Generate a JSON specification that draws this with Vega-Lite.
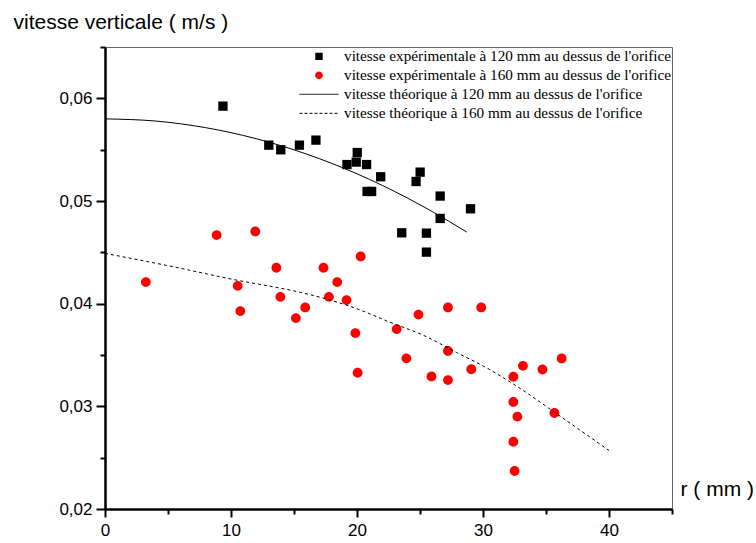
{
  "$schema": "https://vega.github.io/schema/vega-lite/v6.json",
  "width": 567,
  "height": 462,
  "autosize": {"type": "none"},
  "padding": {"left": 105, "top": 47, "right": 84, "bottom": 34},
  "background": "white",
  "config": {
    "view": {"stroke": "#666666", "strokeWidth": 1},
    "axis": {
      "grid": false,
      "domainColor": "black",
      "domainWidth": 2.5,
      "tickColor": "black",
      "tickWidth": 2,
      "labelFont": "Liberation Sans",
      "labelFontSize": 17,
      "labelColor": "black",
      "labelFlush": false,
      "labelOverlap": false,
      "titleFont": "Liberation Sans",
      "titleFontSize": 21,
      "titleFontWeight": "normal",
      "titleColor": "black"
    },
    "legend": {
      "orient": "top-right",
      "offset": 0,
      "padding": 0,
      "labelFont": "Liberation Serif",
      "labelFontSize": 15.25,
      "labelColor": "black",
      "labelLimit": 500,
      "labelOffset": 5,
      "symbolOffset": 0,
      "symbolSize": 1521,
      "symbolStrokeWidth": 1,
      "clipHeight": 18.67,
      "rowPadding": 0
    }
  },
  "data": {
    "values": [
      {"kind": "exp", "serie": "vitesse expérimentale à 120 mm au dessus de l'orifice", "r": 9.36, "v": 0.05924},
      {"kind": "exp", "serie": "vitesse expérimentale à 120 mm au dessus de l'orifice", "r": 13.0, "v": 0.05544},
      {"kind": "exp", "serie": "vitesse expérimentale à 120 mm au dessus de l'orifice", "r": 13.95, "v": 0.05499},
      {"kind": "exp", "serie": "vitesse expérimentale à 120 mm au dessus de l'orifice", "r": 15.43, "v": 0.05544},
      {"kind": "exp", "serie": "vitesse expérimentale à 120 mm au dessus de l'orifice", "r": 16.74, "v": 0.05593},
      {"kind": "exp", "serie": "vitesse expérimentale à 120 mm au dessus de l'orifice", "r": 19.2, "v": 0.05355},
      {"kind": "exp", "serie": "vitesse expérimentale à 120 mm au dessus de l'orifice", "r": 19.94, "v": 0.05379},
      {"kind": "exp", "serie": "vitesse expérimentale à 120 mm au dessus de l'orifice", "r": 20.02, "v": 0.05472},
      {"kind": "exp", "serie": "vitesse expérimentale à 120 mm au dessus de l'orifice", "r": 20.76, "v": 0.05355},
      {"kind": "exp", "serie": "vitesse expérimentale à 120 mm au dessus de l'orifice", "r": 20.8, "v": 0.05093},
      {"kind": "exp", "serie": "vitesse expérimentale à 120 mm au dessus de l'orifice", "r": 21.16, "v": 0.05093},
      {"kind": "exp", "serie": "vitesse expérimentale à 120 mm au dessus de l'orifice", "r": 21.88, "v": 0.05236},
      {"kind": "exp", "serie": "vitesse expérimentale à 120 mm au dessus de l'orifice", "r": 23.55, "v": 0.0469},
      {"kind": "exp", "serie": "vitesse expérimentale à 120 mm au dessus de l'orifice", "r": 24.69, "v": 0.0519},
      {"kind": "exp", "serie": "vitesse expérimentale à 120 mm au dessus de l'orifice", "r": 25.01, "v": 0.05281},
      {"kind": "exp", "serie": "vitesse expérimentale à 120 mm au dessus de l'orifice", "r": 25.51, "v": 0.04687},
      {"kind": "exp", "serie": "vitesse expérimentale à 120 mm au dessus de l'orifice", "r": 25.51, "v": 0.04502},
      {"kind": "exp", "serie": "vitesse expérimentale à 120 mm au dessus de l'orifice", "r": 26.6, "v": 0.05048},
      {"kind": "exp", "serie": "vitesse expérimentale à 120 mm au dessus de l'orifice", "r": 26.6, "v": 0.0483},
      {"kind": "exp", "serie": "vitesse expérimentale à 120 mm au dessus de l'orifice", "r": 29.01, "v": 0.04924},
      {"kind": "exp", "serie": "vitesse expérimentale à 160 mm au dessus de l'orifice", "r": 3.24, "v": 0.0421},
      {"kind": "exp", "serie": "vitesse expérimentale à 160 mm au dessus de l'orifice", "r": 8.86, "v": 0.04668},
      {"kind": "exp", "serie": "vitesse expérimentale à 160 mm au dessus de l'orifice", "r": 11.93, "v": 0.04703},
      {"kind": "exp", "serie": "vitesse expérimentale à 160 mm au dessus de l'orifice", "r": 10.53, "v": 0.04174},
      {"kind": "exp", "serie": "vitesse expérimentale à 160 mm au dessus de l'orifice", "r": 10.74, "v": 0.03928},
      {"kind": "exp", "serie": "vitesse expérimentale à 160 mm au dessus de l'orifice", "r": 13.6, "v": 0.0435},
      {"kind": "exp", "serie": "vitesse expérimentale à 160 mm au dessus de l'orifice", "r": 13.92, "v": 0.04067},
      {"kind": "exp", "serie": "vitesse expérimentale à 160 mm au dessus de l'orifice", "r": 15.15, "v": 0.0386},
      {"kind": "exp", "serie": "vitesse expérimentale à 160 mm au dessus de l'orifice", "r": 15.89, "v": 0.03963},
      {"kind": "exp", "serie": "vitesse expérimentale à 160 mm au dessus de l'orifice", "r": 17.34, "v": 0.0435},
      {"kind": "exp", "serie": "vitesse expérimentale à 160 mm au dessus de l'orifice", "r": 17.77, "v": 0.04067},
      {"kind": "exp", "serie": "vitesse expérimentale à 160 mm au dessus de l'orifice", "r": 18.43, "v": 0.0421},
      {"kind": "exp", "serie": "vitesse expérimentale à 160 mm au dessus de l'orifice", "r": 19.17, "v": 0.04035},
      {"kind": "exp", "serie": "vitesse expérimentale à 160 mm au dessus de l'orifice", "r": 19.87, "v": 0.03714},
      {"kind": "exp", "serie": "vitesse expérimentale à 160 mm au dessus de l'orifice", "r": 20.29, "v": 0.0446},
      {"kind": "exp", "serie": "vitesse expérimentale à 160 mm au dessus de l'orifice", "r": 20.05, "v": 0.03327},
      {"kind": "exp", "serie": "vitesse expérimentale à 160 mm au dessus de l'orifice", "r": 23.15, "v": 0.03753},
      {"kind": "exp", "serie": "vitesse expérimentale à 160 mm au dessus de l'orifice", "r": 23.92, "v": 0.03468},
      {"kind": "exp", "serie": "vitesse expérimentale à 160 mm au dessus de l'orifice", "r": 24.88, "v": 0.03894},
      {"kind": "exp", "serie": "vitesse expérimentale à 160 mm au dessus de l'orifice", "r": 27.22, "v": 0.03963},
      {"kind": "exp", "serie": "vitesse expérimentale à 160 mm au dessus de l'orifice", "r": 29.86, "v": 0.03963},
      {"kind": "exp", "serie": "vitesse expérimentale à 160 mm au dessus de l'orifice", "r": 25.91, "v": 0.03291},
      {"kind": "exp", "serie": "vitesse expérimentale à 160 mm au dessus de l'orifice", "r": 27.22, "v": 0.0354},
      {"kind": "exp", "serie": "vitesse expérimentale à 160 mm au dessus de l'orifice", "r": 27.22, "v": 0.03256},
      {"kind": "exp", "serie": "vitesse expérimentale à 160 mm au dessus de l'orifice", "r": 29.07, "v": 0.03361},
      {"kind": "exp", "serie": "vitesse expérimentale à 160 mm au dessus de l'orifice", "r": 32.41, "v": 0.03288},
      {"kind": "exp", "serie": "vitesse expérimentale à 160 mm au dessus de l'orifice", "r": 33.17, "v": 0.03395},
      {"kind": "exp", "serie": "vitesse expérimentale à 160 mm au dessus de l'orifice", "r": 34.72, "v": 0.03359},
      {"kind": "exp", "serie": "vitesse expérimentale à 160 mm au dessus de l'orifice", "r": 36.24, "v": 0.03466},
      {"kind": "exp", "serie": "vitesse expérimentale à 160 mm au dessus de l'orifice", "r": 32.41, "v": 0.03043},
      {"kind": "exp", "serie": "vitesse expérimentale à 160 mm au dessus de l'orifice", "r": 32.73, "v": 0.029},
      {"kind": "exp", "serie": "vitesse expérimentale à 160 mm au dessus de l'orifice", "r": 35.67, "v": 0.02935},
      {"kind": "exp", "serie": "vitesse expérimentale à 160 mm au dessus de l'orifice", "r": 32.41, "v": 0.02655},
      {"kind": "exp", "serie": "vitesse expérimentale à 160 mm au dessus de l'orifice", "r": 32.51, "v": 0.0237},
      {"kind": "theo120", "serie": "vitesse théorique à 120 mm au dessus de l'orifice", "r": 0, "v": 0.058},
      {"kind": "theo120", "serie": "vitesse théorique à 120 mm au dessus de l'orifice", "r": 4, "v": 0.05779},
      {"kind": "theo120", "serie": "vitesse théorique à 120 mm au dessus de l'orifice", "r": 8, "v": 0.05714},
      {"kind": "theo120", "serie": "vitesse théorique à 120 mm au dessus de l'orifice", "r": 12, "v": 0.05607},
      {"kind": "theo120", "serie": "vitesse théorique à 120 mm au dessus de l'orifice", "r": 16, "v": 0.05457},
      {"kind": "theo120", "serie": "vitesse théorique à 120 mm au dessus de l'orifice", "r": 20, "v": 0.05265},
      {"kind": "theo120", "serie": "vitesse théorique à 120 mm au dessus de l'orifice", "r": 24, "v": 0.05029},
      {"kind": "theo120", "serie": "vitesse théorique à 120 mm au dessus de l'orifice", "r": 26, "v": 0.04895},
      {"kind": "theo120", "serie": "vitesse théorique à 120 mm au dessus de l'orifice", "r": 28.7, "v": 0.04698},
      {"kind": "theo160", "serie": "vitesse théorique à 160 mm au dessus de l'orifice", "r": 0, "v": 0.0449},
      {"kind": "theo160", "serie": "vitesse théorique à 160 mm au dessus de l'orifice", "r": 5, "v": 0.0437},
      {"kind": "theo160", "serie": "vitesse théorique à 160 mm au dessus de l'orifice", "r": 10, "v": 0.0424},
      {"kind": "theo160", "serie": "vitesse théorique à 160 mm au dessus de l'orifice", "r": 15.5, "v": 0.0411},
      {"kind": "theo160", "serie": "vitesse théorique à 160 mm au dessus de l'orifice", "r": 17.3, "v": 0.04055},
      {"kind": "theo160", "serie": "vitesse théorique à 160 mm au dessus de l'orifice", "r": 20, "v": 0.0395},
      {"kind": "theo160", "serie": "vitesse théorique à 160 mm au dessus de l'orifice", "r": 22.6, "v": 0.0382},
      {"kind": "theo160", "serie": "vitesse théorique à 160 mm au dessus de l'orifice", "r": 25.3, "v": 0.0369},
      {"kind": "theo160", "serie": "vitesse théorique à 160 mm au dessus de l'orifice", "r": 27.9, "v": 0.03525},
      {"kind": "theo160", "serie": "vitesse théorique à 160 mm au dessus de l'orifice", "r": 30.5, "v": 0.0336},
      {"kind": "theo160", "serie": "vitesse théorique à 160 mm au dessus de l'orifice", "r": 33, "v": 0.0317},
      {"kind": "theo160", "serie": "vitesse théorique à 160 mm au dessus de l'orifice", "r": 35.7, "v": 0.0294},
      {"kind": "theo160", "serie": "vitesse théorique à 160 mm au dessus de l'orifice", "r": 40, "v": 0.0257}
    ]
  },
  "layer": [
    {
      "transform": [{"filter": "datum.kind == 'exp'"}],
      "mark": {"type": "point", "filled": true, "opacity": 1, "size": 2400},
      "encoding": {
        "x": {
          "field": "r", "type": "quantitative",
          "scale": {"domain": [0, 45], "nice": false, "zero": false},
          "axis": {
            "values": [0, 5, 10, 15, 20, 25, 30, 35, 40, 45],
            "title": "r ( mm )",
            "titleAngle": 0,
            "titleAlign": "left",
            "titleBaseline": "alphabetic",
            "titleX": 575,
            "titleY": -13.5,
            "labelExpr": "(datum.value % 10 == 0 && datum.value < 45) ? datum.label : ''",
            "tickSize": {"condition": {"test": "datum.value % 10 == 0", "value": 8}, "value": 5},
            "labelPadding": 5
          }
        },
        "y": {
          "field": "v", "type": "quantitative",
          "scale": {"domain": [0.02, 0.065], "nice": false, "zero": false},
          "axis": {
            "values": [0.02, 0.025, 0.03, 0.035, 0.04, 0.045, 0.05, 0.055, 0.06, 0.065],
            "title": "vitesse verticale ( m/s )",
            "titleAngle": 0,
            "titleAlign": "left",
            "titleBaseline": "alphabetic",
            "titleX": -92,
            "titleY": -19,
            "labelExpr": "abs(datum.value * 100 - round(datum.value * 100)) < 0.01 ? replace(format(datum.value, '.2f'), '.', ',') : ''",
            "tickSize": {"condition": {"test": "abs(datum.value * 100 - round(datum.value * 100)) < 0.01", "value": 9}, "value": 5},
            "labelPadding": 4
          }
        },
        "shape": {
          "field": "serie", "type": "nominal",
          "scale": {
            "domain": [
              "vitesse expérimentale à 120 mm au dessus de l'orifice",
              "vitesse expérimentale à 160 mm au dessus de l'orifice",
              "vitesse théorique à 120 mm au dessus de l'orifice",
              "vitesse théorique à 160 mm au dessus de l'orifice"
            ],
            "range": [
              "M-0.19,-0.19H0.19V0.19H-0.19Z",
              "M-0.2,0A0.2,0.2,0,1,0,0.2,0A0.2,0.2,0,1,0,-0.2,0Z",
              "M-1,0H1",
              "M-1,0H1"
            ]
          },
          "legend": {"title": null}
        },
        "color": {
          "field": "serie", "type": "nominal",
          "scale": {
            "domain": [
              "vitesse expérimentale à 120 mm au dessus de l'orifice",
              "vitesse expérimentale à 160 mm au dessus de l'orifice",
              "vitesse théorique à 120 mm au dessus de l'orifice",
              "vitesse théorique à 160 mm au dessus de l'orifice"
            ],
            "range": ["black", "red", "black", "black"]
          },
          "legend": {"title": null}
        },
        "stroke": {
          "field": "serie", "type": "nominal",
          "scale": {
            "domain": [
              "vitesse expérimentale à 120 mm au dessus de l'orifice",
              "vitesse expérimentale à 160 mm au dessus de l'orifice",
              "vitesse théorique à 120 mm au dessus de l'orifice",
              "vitesse théorique à 160 mm au dessus de l'orifice"
            ],
            "range": ["transparent", "transparent", "black", "black"]
          },
          "legend": {"title": null}
        },
        "strokeDash": {
          "field": "serie", "type": "nominal",
          "scale": {
            "domain": [
              "vitesse expérimentale à 120 mm au dessus de l'orifice",
              "vitesse expérimentale à 160 mm au dessus de l'orifice",
              "vitesse théorique à 120 mm au dessus de l'orifice",
              "vitesse théorique à 160 mm au dessus de l'orifice"
            ],
            "range": [[1, 0], [1, 0], [1, 0], [3, 2]]
          },
          "legend": {"title": null}
        }
      }
    },
    {
      "transform": [{"filter": "datum.kind == 'theo120'"}],
      "mark": {"type": "line", "color": "black", "strokeWidth": 1, "interpolate": "monotone"},
      "encoding": {
        "x": {"field": "r", "type": "quantitative"},
        "y": {"field": "v", "type": "quantitative"}
      }
    },
    {
      "transform": [{"filter": "datum.kind == 'theo160'"}],
      "mark": {"type": "line", "color": "black", "strokeWidth": 1, "strokeDash": [3, 3], "interpolate": "monotone"},
      "encoding": {
        "x": {"field": "r", "type": "quantitative"},
        "y": {"field": "v", "type": "quantitative"}
      }
    }
  ]
}
